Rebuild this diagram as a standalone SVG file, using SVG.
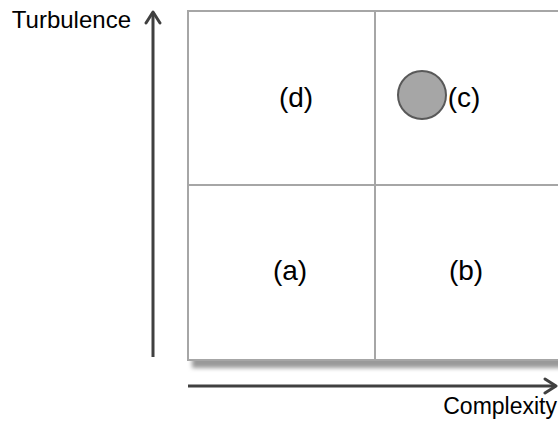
<svg xmlns="http://www.w3.org/2000/svg" width="558" height="423" viewBox="0 0 558 423">
  <style>
    .lbl { font-family: "Liberation Sans", Arial, sans-serif; fill: #000; }
    .q { font-size: 28px; text-anchor: middle; }
    .ax { font-size: 23px; }
    .grid { stroke: #A6A6A6; stroke-width: 2; fill: none; }
    .axis { stroke: #404040; stroke-width: 3; fill: none; }
  </style>
  <defs>
    <filter id="shadow" x="-10%" y="-10%" width="130%" height="130%">
      <feDropShadow dx="4" dy="8" stdDeviation="2" flood-color="#999999" flood-opacity="1"/>
    </filter>
    <marker id="chev" viewBox="0 0 16 18" refX="14" refY="9" markerWidth="16" markerHeight="18" markerUnits="userSpaceOnUse" orient="auto">
      <path d="M3,2 L14,9 L3,16" fill="none" stroke="#404040" stroke-width="3" stroke-linecap="round" stroke-linejoin="round"/>
    </marker>
  </defs>

  <!-- matrix frame -->
  <g id="matrix">
    <rect x="188" y="11" width="374" height="349" fill="#fff" filter="url(#shadow)"/>
    <rect class="grid" x="188" y="11" width="374" height="349"/>
    <line class="grid" x1="375" y1="11" x2="375" y2="360"/>
    <line class="grid" x1="188" y1="185" x2="562" y2="185"/>
  </g>

  <!-- quadrants -->
  <g id="quadrant-d"><text class="lbl q" x="296" y="107">(d)</text></g>
  <g id="quadrant-c">
    <circle cx="422" cy="95" r="24" fill="#A6A6A6" stroke="#595959" stroke-width="2"/>
    <text class="lbl q" x="464" y="107">(c)</text>
  </g>
  <g id="quadrant-a"><text class="lbl q" x="290" y="280">(a)</text></g>
  <g id="quadrant-b"><text class="lbl q" x="466" y="280">(b)</text></g>

  <!-- axes -->
  <g id="connectors">
    <line class="axis" x1="153" y1="357" x2="153" y2="12" marker-end="url(#chev)"/>
    <line class="axis" x1="188" y1="386" x2="556" y2="386" marker-end="url(#chev)"/>
  </g>

  <g id="axis-labels">
    <text class="lbl ax" x="131" y="28" text-anchor="end" style="font-size:24px">Turbulence</text>
    <text class="lbl ax" x="557" y="414" text-anchor="end">Complexity</text>
  </g>
</svg>
